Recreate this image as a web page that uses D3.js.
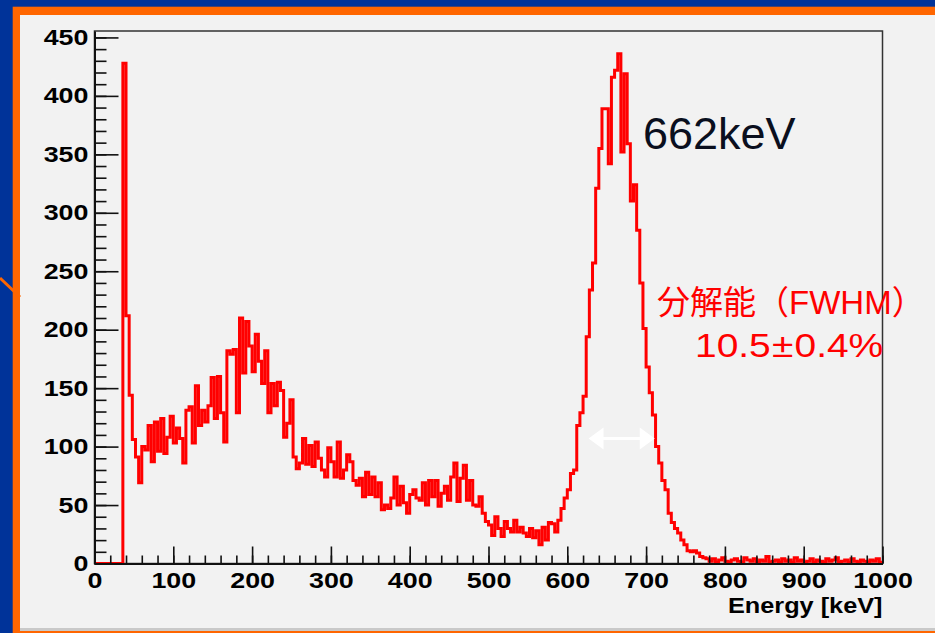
<!DOCTYPE html>
<html>
<head>
<meta charset="utf-8">
<script src="https://cdn.jsdelivr.net/npm/d3@7"></script>
<style>
  html, body { margin: 0; padding: 0; background: #003399; }
  svg { display: block; }
</style>
</head>
<body>
<svg id="chart" width="935" height="633"></svg>
<script>
// Cs-137 energy spectrum, 4 keV bins from 0 to 1000 keV
const binWidth = 4;
const counts = [
  // 0-36 keV: below threshold
  0, 0, 0, 0, 0, 0, 0, 0, 0,
  // 36-68 keV: X-ray / threshold spike
  428, 212, 144, 106, 91, 69, 100, 97,
  // 68-132 keV
  118, 87, 121, 96, 124, 94, 108, 126, 103, 116, 107, 86, 131, 134, 103, 152,
  // 132-200 keV: backscatter bump
  118, 131, 121, 135, 159, 124, 160, 129, 104, 182, 179, 183, 129, 210, 163, 207, 186,
  // 200-272 keV
  164, 196, 173, 154, 182, 129, 154, 135, 155, 148, 108, 120, 140, 91, 81, 86, 107, 85,
  // 272-400 keV: Compton continuum
  101, 83, 104, 90, 80, 74, 99, 87, 74, 104, 73, 80, 93, 87, 71, 67,
  73, 57, 78, 59, 74, 57, 69, 46, 50, 47, 56, 74, 50, 66, 52, 43,
  // 400-496 keV: Compton edge
  59, 63, 56, 54, 69, 50, 71, 57, 71, 49, 60, 66, 54, 74, 86, 53,
  73, 84, 54, 71, 50, 49, 57, 43,
  // 496-612 keV: valley
  36, 33, 24, 40, 30, 23, 36, 30, 27, 37, 27, 31, 26, 23, 30, 22,
  28, 16, 31, 20, 35, 34, 27, 37, 47, 56, 63, 77, 80,
  // 612-780 keV: photopeak
  118, 129, 143, 194, 234, 257, 321, 355, 389, 389, 342, 416, 422, 436, 352, 419,
  359, 310, 324, 285, 240, 201, 168, 146, 127, 100, 86, 71, 63, 43, 35, 30,
  26, 20, 16, 11, 10, 11, 9, 6, 5, 4,
  // 780-1000 keV: background tail
  2, 4, 1, 3, 5, 2, 1, 3, 4, 2, 1, 5, 3, 2, 4, 1, 3, 2, 6, 1,
  2, 3, 1, 4, 2, 3, 1, 5, 2, 3, 1, 2, 4, 1, 3, 2, 1, 4, 2, 3,
  5, 1, 2, 3, 1, 4, 2, 1, 3, 2, 1, 3, 2, 4, 1
];
const xTicks = [0, 100, 200, 300, 400, 500, 600, 700, 800, 900, 1000];
const yTicks = [0, 50, 100, 150, 200, 250, 300, 350, 400, 450];
const xTitle = "Energy [keV]";
const peakLabel = "662keV";
const resolutionTitle = "分解能（FWHM）";
const resolutionValue = ["10.5", "±", "0.4%"];
const fwhmSpan = [627, 711];   // keV, ends of the width arrow
const fwhmLevel = 107;         // counts, height of the width arrow

const svg = d3.select("#chart");
const W = 935, H = 633;

// slide background: blue field, orange border, light panel
svg.append("rect").attr("width", W).attr("height", H).attr("fill", "#003399");
svg.append("rect").attr("x", 12.7).attr("y", 6.7).attr("width", W - 12.7).attr("height", H - 6.7).attr("fill", "#ff6600");
svg.append("rect").attr("x", 20).attr("y", 15).attr("width", W - 20).attr("height", 616).attr("fill", "#c9c9c9");
svg.append("rect").attr("x", 20).attr("y", 15).attr("width", W - 20).attr("height", 613).attr("fill", "#f2f2f2");
svg.append("line").attr("x1", 0).attr("y1", 278).attr("x2", 20).attr("y2", 297)
  .attr("stroke", "#ff6600").attr("stroke-width", 3);

const x = d3.scaleLinear().domain([0, 1000]).range([94.5, 882.5]);
const y = d3.scaleLinear().domain([0, 455.5]).range([563.5, 31]);

const labelFont = "'Liberation Sans', Arial, Helvetica, sans-serif";
const stretch = 1.22;

// histogram as a step line
const pts = counts.map((c, i) => [i * binWidth, c]);
pts.push([counts.length * binWidth, counts[counts.length - 1]]);
svg.append("defs").append("clipPath").attr("id", "plotClip")
  .append("rect").attr("x", x(0)).attr("y", y(455.5))
  .attr("width", x(1000) - x(0)).attr("height", y(0) - y(455.5) + 2);

// frame
svg.append("rect")
  .attr("x", x(0)).attr("y", y(455.5))
  .attr("width", x(1000) - x(0)).attr("height", y(0) - y(455.5))
  .attr("fill", "none").attr("stroke", "#333").attr("stroke-width", 1.5);

const line = d3.line().x(d => x(d[0])).y(d => y(d[1])).curve(d3.curveStepAfter);
svg.append("path").datum(pts)
  .attr("clip-path", "url(#plotClip)")
  .attr("d", line).attr("fill", "none")
  .attr("stroke", "#ff0000").attr("stroke-width", 3).attr("stroke-linejoin", "miter");

// axes, ticks pointing into the frame
function styleAxis(g) {
  g.selectAll("line").attr("stroke", "#111").attr("stroke-width", 1.6);
  g.select(".domain").attr("stroke", "#111").attr("stroke-width", 2);
  g.selectAll("text").attr("fill", "#000")
    .style("font-family", labelFont).style("font-weight", "bold").style("font-size", "22px")
    .attr("transform", `scale(${stretch},1)`);
}

const yMinor = svg.append("g").attr("transform", `translate(${x(0)},0)`)
  .call(d3.axisLeft(y).tickValues(d3.range(0, 451, 10)).tickSize(-12).tickFormat(""));
yMinor.select(".domain").remove();
yMinor.selectAll("line").attr("stroke", "#111").attr("stroke-width", 1.6);

const xMinor = svg.append("g").attr("transform", `translate(0,${y(0)})`)
  .call(d3.axisBottom(x).tickValues(d3.range(0, 1001, 20)).tickSize(-8).tickFormat(""));
xMinor.select(".domain").remove();
xMinor.selectAll("line").attr("stroke", "#111").attr("stroke-width", 1.6);

svg.append("g").attr("transform", `translate(${x(0)},0)`)
  .call(d3.axisLeft(y).tickValues(yTicks).tickFormat(d3.format("d"))
    .tickSizeInner(-24).tickSizeOuter(0).tickPadding(5))
  .call(styleAxis);

svg.append("g").attr("transform", `translate(0,${y(0)})`)
  .call(d3.axisBottom(x).tickValues(xTicks).tickFormat(d3.format("d"))
    .tickSizeInner(-17).tickSizeOuter(0).tickPadding(9))
  .call(styleAxis);

svg.append("g").attr("transform", `translate(${x(1000)},613) scale(1.15,1)`)
  .append("text").attr("text-anchor", "end")
  .style("font-family", labelFont).style("font-weight", "bold").style("font-size", "22px")
  .attr("fill", "#000").text(xTitle);

// FWHM arrow
const arrow = svg.append("g").attr("fill", "#fff").attr("stroke", "none");
const ay = y(fwhmLevel), ax0 = x(fwhmSpan[0]), ax1 = x(fwhmSpan[1]);
arrow.append("line").attr("x1", ax0 + 10).attr("x2", ax1 - 10).attr("y1", ay).attr("y2", ay)
  .attr("stroke", "#fff").attr("stroke-width", 3);
arrow.append("path").attr("d", `M${ax0},${ay} L${ax0 + 15},${ay - 11} L${ax0 + 15},${ay + 11} Z`);
arrow.append("path").attr("d", `M${ax1},${ay} L${ax1 - 15},${ay - 11} L${ax1 - 15},${ay + 11} Z`);

// annotations
svg.append("text").attr("x", 643).attr("y", 149)
  .style("font-family", labelFont).style("font-size", "45px")
  .attr("fill", "#0a0f1e").text(peakLabel);

const redFont = "'Liberation Sans', Arial, 'Noto Sans CJK JP', sans-serif";
svg.append("text").attr("x", 657).attr("y", 314)
  .style("font-family", redFont).style("font-size", "33px")
  .attr("fill", "#ff0000").text(resolutionTitle);

const val = svg.append("g").attr("transform", "translate(695,357) scale(1.18,1)")
  .append("text")
  .style("font-family", redFont).style("font-size", "33px")
  .attr("fill", "#ff0000");
val.append("tspan").text(resolutionValue[0]);
val.append("tspan").attr("dx", 1).text(resolutionValue[1]);
val.append("tspan").attr("dx", 1).text(resolutionValue[2]);
</script>
</body>
</html>
